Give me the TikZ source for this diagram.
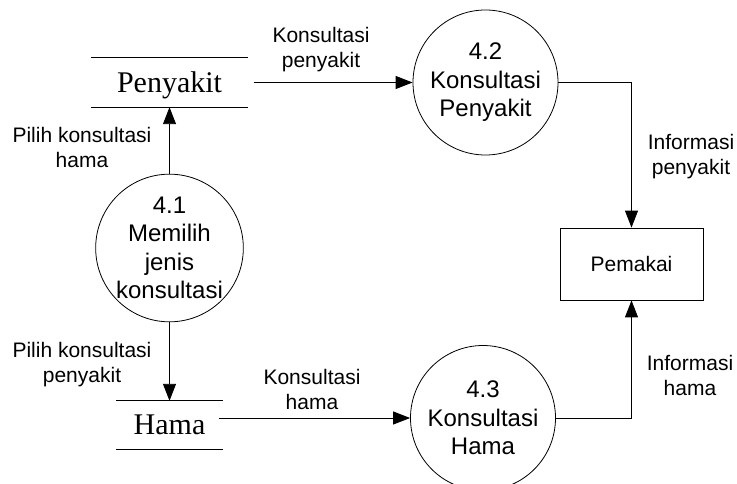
\documentclass[tikz,border=0pt]{standalone}
\usepackage{fontspec}
\setmainfont{Liberation Sans}
\newfontfamily\storefont{Liberation Serif}
\usetikzlibrary{arrows.meta}
\begin{document}
\begin{tikzpicture}[x=1pt,y=-1pt,
  process/.style={circle,draw,line width=0.8pt,minimum size=145pt,inner sep=0pt,
    align=center,font=\fontsize{24}{28.5}\selectfont},
  store/.style={inner sep=0pt,text depth=0pt,font=\storefont\fontsize{30}{36}\selectfont},
  entity/.style={rectangle,draw,line width=0.8pt,minimum width=143pt,minimum height=72pt,
    inner sep=0pt,font=\fontsize{21}{25}\selectfont},
  flowlabel/.style={inner sep=0pt,align=center,font=\fontsize{21}{25}\selectfont},
  flow/.style={line width=0.9pt,-{Triangle[length=17pt,width=13pt]}},
  storeline/.style={line width=0.9pt}]
\useasboundingbox (0,0) rectangle (737,484);

% processes
\node[process] (p41) at (169.5,248) {4.1\\Memilih\\jenis\\konsultasi};
\node[process] (p42) at (485.5,82.5) {4.2\\Konsultasi\\Penyakit};
\node[process] (p43) at (483,418) {4.3\\Konsultasi\\Hama};

% data stores
\node[store,minimum width=156pt,minimum height=49pt] (penyakit) at (169.5,82.5) {Penyakit};
\node[store,minimum width=106pt,minimum height=48pt] (hama) at (169.5,425) {Hama};
\foreach \s in {penyakit,hama}{
  \draw[storeline] (\s.north west) -- (\s.north east);
  \draw[storeline] (\s.south west) -- (\s.south east);
}

% external entity
\node[entity] (pemakai) at (631.5,264) {Pemakai};

% data flows
\coordinate (hamaout) at ([xshift=-4pt,yshift=7pt]hama.east);
\draw[flow] (p41.north) -- (penyakit.south);
\draw[flow] (p41.south) -- (hama.north);
\draw[flow,shorten <=6pt] (penyakit.east) -- (p42.west);
\draw[flow] (hamaout) -- (p43.west);
\draw[flow] (p42.east) -| (pemakai.north);
\draw[flow] (p43.east) -| (pemakai.south);

% flow labels
\node[flowlabel] (lbl1) at (82,147) {Pilih konsultasi\\hama};
\node[flowlabel] (lbl2) at (82,365) {Pilih konsultasi\\penyakit};
\node[flowlabel] (lbl3) at (321,50) {Konsultasi\\penyakit};
\node[flowlabel] (lbl4) at (312,389) {Konsultasi\\hama};
\node[flowlabel] (lbl5) at (691,157) {Informasi\\penyakit};
\node[flowlabel] (lbl6) at (690,375) {Informasi\\hama};
\end{tikzpicture}
\end{document}
